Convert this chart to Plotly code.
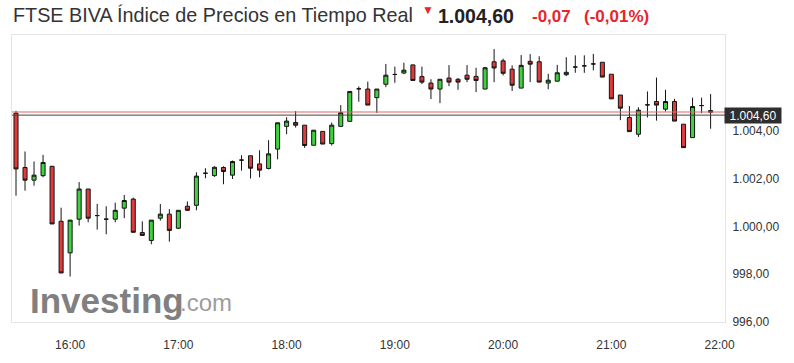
import plotly.graph_objects as go
import pandas as pd

# ---------------- data ----------------
title_text = "FTSE BIVA Índice de Precios en Tiempo Real"
last_price_text = "1.004,60"
change_text = "-0,07"
change_pct_text = "(-0,01%)"
watermark_main = "Investing"
watermark_tld = ".com"

start_time = "2024-01-02 15:30"   # first 5-minute candle

open_ = [1004.73, 1002.46, 1001.93, 1002.12, 1002.51, 1000.21, 998.89, 1000.30, 1001.56, 1000.45,
         1000.30, 1000.30, 1000.76, 1001.14, 999.74, 999.41, 1000.34, 1000.51, 999.92, 1000.84,
         1000.88, 1002.22, 1002.12, 1002.46, 1002.14, 1002.77, 1002.95, 1002.61, 1002.42, 1003.23,
         1004.18, 1004.34, 1004.23, 1003.39, 1003.97, 1003.46, 1004.18, 1004.39, 1005.75, 1005.74,
         1005.38, 1005.94, 1006.35, 1006.41, 1006.75, 1006.26, 1005.99, 1005.74, 1006.20, 1006.15,
         1006.32, 1006.27, 1005.74, 1006.88, 1006.92, 1006.57, 1005.78, 1006.90, 1006.88, 1005.99,
         1006.07, 1006.34, 1006.66, 1006.71, 1006.79, 1006.86, 1006.36, 1005.49, 1004.55, 1003.85,
         1005.08, 1005.22, 1004.90, 1005.22, 1004.27, 1003.71, 1005.05, 1004.84]
high = [1004.83, 1003.13, 1002.71, 1002.99, 1002.53, 1000.78, 1000.26, 1001.85, 1001.56, 1000.94,
        1000.84, 1000.99, 1001.31, 1001.20, 1000.21, 1000.26, 1000.93, 1000.72, 1000.67, 1001.04,
        1002.26, 1002.43, 1002.51, 1002.51, 1002.75, 1002.97, 1002.95, 1003.18, 1003.60, 1004.33,
        1004.56, 1004.82, 1004.23, 1004.02, 1003.97, 1004.34, 1005.07, 1005.64, 1005.85, 1006.05,
        1005.74, 1006.79, 1006.68, 1006.84, 1006.76, 1006.68, 1006.15, 1006.15, 1006.74, 1006.20,
        1006.74, 1006.63, 1006.67, 1007.41, 1007.01, 1006.73, 1007.16, 1007.20, 1007.11, 1006.38,
        1006.75, 1007.07, 1007.15, 1007.15, 1007.21, 1006.86, 1006.36, 1005.49, 1005.03, 1004.98,
        1005.64, 1006.22, 1005.71, 1005.33, 1004.27, 1005.38, 1005.38, 1005.53]
low = [1001.28, 1001.49, 1001.70, 1002.05, 1000.10, 998.05, 997.90, 1000.03, 1000.17, 999.86,
       999.67, 1000.17, 1000.34, 999.74, 999.61, 999.25, 1000.24, 999.36, 999.89, 1000.64,
       1000.67, 1002.01, 1002.07, 1001.76, 1001.98, 1002.33, 1002.00, 1002.05, 1002.38, 1002.80,
       1003.85, 1004.13, 1003.28, 1003.39, 1003.44, 1003.38, 1004.18, 1004.39, 1005.21, 1005.07,
       1004.74, 1005.82, 1006.00, 1006.36, 1006.10, 1005.95, 1005.32, 1005.15, 1005.86, 1005.71,
       1006.03, 1005.61, 1005.74, 1006.03, 1006.31, 1005.66, 1005.78, 1006.03, 1006.03, 1005.73,
       1006.05, 1006.28, 1006.42, 1006.42, 1006.52, 1006.24, 1005.33, 1004.44, 1003.96, 1003.74,
       1004.55, 1004.42, 1004.80, 1004.40, 1003.29, 1003.71, 1004.73, 1004.08]
close = [1002.40, 1001.93, 1002.14, 1002.67, 1000.10, 998.05, 1000.26, 1001.56, 1000.34, 1000.45,
         1000.30, 1000.67, 1001.08, 999.75, 999.62, 1000.26, 1000.51, 999.83, 1000.67, 1000.67,
         1002.10, 1002.22, 1002.47, 1002.29, 1002.71, 1002.77, 1002.43, 1002.35, 1003.03, 1004.33,
         1004.40, 1004.23, 1003.38, 1004.02, 1003.44, 1004.23, 1004.75, 1005.64, 1005.75, 1005.07,
         1005.74, 1006.32, 1006.35, 1006.53, 1006.10, 1006.03, 1005.74, 1006.15, 1006.03, 1006.03,
         1006.15, 1006.10, 1006.63, 1006.62, 1006.40, 1005.90, 1006.73, 1006.78, 1006.03, 1006.11,
         1006.42, 1006.44, 1006.66, 1006.71, 1006.79, 1006.24, 1005.33, 1004.94, 1003.96, 1004.86,
         1005.08, 1005.07, 1005.22, 1004.40, 1003.29, 1005.01, 1005.05, 1004.77]

ytick_vals = [996, 998, 1000, 1002, 1004]
y_range = [996, 1008]
x_range = ["2024-01-02 15:27:47", "2024-01-02 22:02:59"]
last_price_line = 1004.65
prev_close_line = 1004.78

times = pd.date_range(start_time, periods=len(open_), freq="5min")

# ---------------- figure ----------------
fig = go.Figure()
fig.add_trace(go.Candlestick(
    x=times, open=open_, high=high, low=low, close=close,
    increasing=dict(fillcolor="#3fd23f", line=dict(color="#141414", width=1)),
    decreasing=dict(fillcolor="#e23a3a", line=dict(color="#141414", width=1)),
    whiskerwidth=0, hoverinfo="skip",
))

FONT = "Liberation Sans, Arial, sans-serif"

fig.update_layout(
    width=794, height=363,
    margin=dict(l=12, r=69, t=35, b=41),
    paper_bgcolor="white", plot_bgcolor="white",
    showlegend=False, boxgap=0.36, separators=",.",
    font=dict(family=FONT, color="#333333"),
    xaxis=dict(
        type="date", range=x_range, tickformat="%H:%M", dtick=3600000,
        tick0="2024-01-02 16:00", showgrid=False, zeroline=False,
        showline=True, mirror=True, linecolor="#e4e4e4", linewidth=1,
        ticks="", tickfont=dict(size=12, color="#333333"),
        rangeslider=dict(visible=False), ticklabelstandoff=12,
    ),
    yaxis=dict(
        side="right", range=y_range, tickvals=ytick_vals, tickformat=",.2f",
        showgrid=False, zeroline=False,
        showline=True, mirror=True, linecolor="#e4e4e4", linewidth=1,
        ticks="", tickfont=dict(size=12, color="#333333"), ticklabelstandoff=4,
    ),
)

# price lines
fig.add_shape(type="line", xref="paper", x0=0, x1=1, yref="y",
              y0=prev_close_line, y1=prev_close_line,
              line=dict(color="#e26464", width=1))
fig.add_shape(type="line", xref="paper", x0=0, x1=1, yref="y",
              y0=last_price_line, y1=last_price_line,
              line=dict(color="#444444", width=1))

# last price label on the axis
fig.add_annotation(xref="paper", x=1, xanchor="left", xshift=-1,
                   yref="y", y=last_price_line, yanchor="middle",
                   text=last_price_text, showarrow=False,
                   font=dict(family=FONT, size=12, color="white"),
                   bgcolor="#2e2e2e", width=54, height=13, borderpad=1, align="center")

def px_x(px):
    return (px - 12) / 713.0

def px_y(py):
    return (322 - py) / 287.0

# header
fig.add_annotation(xref="paper", yref="paper", x=px_x(11), y=px_y(15),
                   xanchor="left", yanchor="middle", showarrow=False,
                   text=title_text, font=dict(family=FONT, size=19.8, color="#333333"))
fig.add_annotation(xref="paper", yref="paper", x=px_x(428), y=px_y(10),
                   xanchor="center", yanchor="middle", showarrow=False,
                   text="▼", font=dict(family=FONT, size=12, color="#e8262a"))
fig.add_annotation(xref="paper", yref="paper", x=px_x(436), y=px_y(16),
                   xanchor="left", yanchor="middle", showarrow=False,
                   text="<b>" + last_price_text + "</b>",
                   font=dict(family=FONT, size=19.5, color="#222222"))
fig.add_annotation(xref="paper", yref="paper", x=px_x(530), y=px_y(16),
                   xanchor="left", yanchor="middle", showarrow=False,
                   text="<b>" + change_text + "</b>",
                   font=dict(family=FONT, size=17, color="#e8262a"))
fig.add_annotation(xref="paper", yref="paper", x=px_x(582), y=px_y(16),
                   xanchor="left", yanchor="middle", showarrow=False,
                   text="<b>" + change_pct_text + "</b>",
                   font=dict(family=FONT, size=17, color="#e8262a"))

# watermark
fig.add_annotation(xref="paper", yref="paper", x=px_x(28), y=px_y(300),
                   xanchor="left", yanchor="middle", showarrow=False,
                   text="<b>" + watermark_main + "</b>",
                   font=dict(family=FONT, size=35, color="#808080"))
fig.add_annotation(xref="paper", yref="paper", x=px_x(178), y=px_y(302),
                   xanchor="left", yanchor="middle", showarrow=False,
                   text=watermark_tld,
                   font=dict(family=FONT, size=24, color="#9d9d9d"))

fig.write_html("out.html")
